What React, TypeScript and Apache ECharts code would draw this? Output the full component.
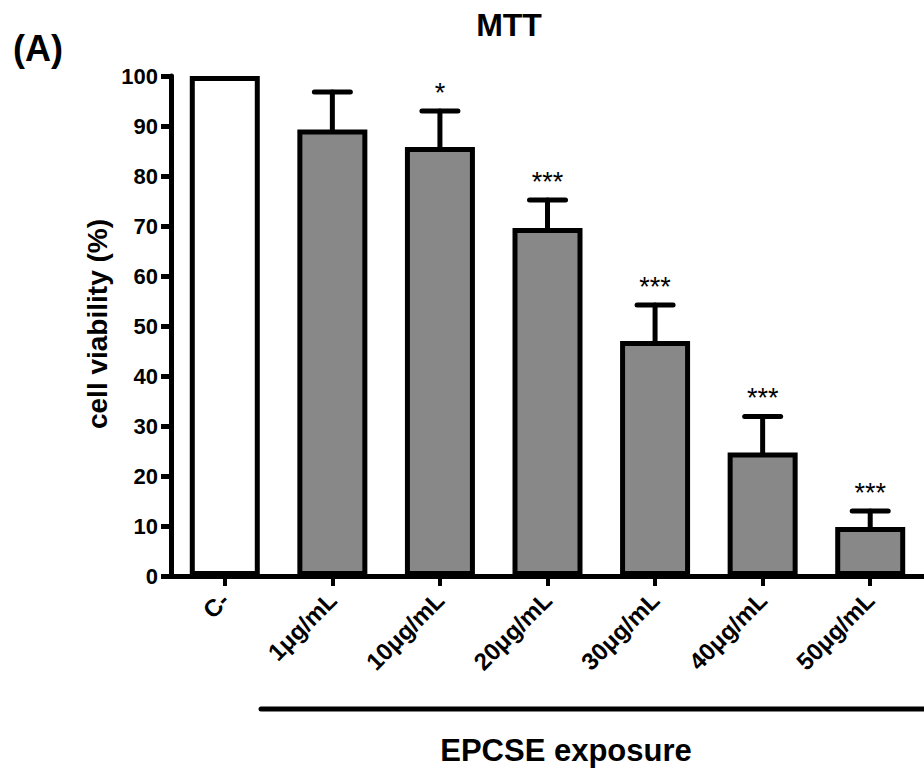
import React, { useEffect, useRef } from "react";
import * as echarts from "echarts";

const categories = ["C-", "1μg/mL", "10μg/mL", "20μg/mL", "30μg/mL", "40μg/mL", "50μg/mL"];
const means = [100, 89.3, 85.8, 69.6, 47, 24.7, 9.8];
const errors = [0, 7.5, 7.2, 5.6, 7.2, 7.2, 3.2];
const significance = ["", "", "*", "***", "***", "***", "***"];
const yTicks = { min: 0, max: 100, interval: 10 };

const FONT = "Arial, 'Liberation Sans', Helvetica, sans-serif";

export default function App() {
  const ref = useRef<HTMLDivElement>(null);
  useEffect(() => {
    if (!ref.current) return;
    const chart = echarts.init(ref.current, null, { renderer: "svg" });
    const barData = means.map((v, i) => ({
      value: v,
      itemStyle: { color: i === 0 ? "#ffffff" : "#888888" },
    }));
    const errData = means.map((v, i) => [i, v, v + errors[i]]);
    const starData = means.map((v, i) => [i, v + errors[i], significance[i]]);
    chart.setOption({
      animation: false,
      backgroundColor: "#ffffff",
      textStyle: { fontFamily: FONT },
      grid: { left: 171, right: 0, top: 76, bottom: 196, containLabel: false, outerBoundsMode: "none" },
      xAxis: {
        type: "category",
        data: categories,
        axisLine: { lineStyle: { color: "#000", width: 5 } },
        axisTick: { show: true, alignWithLabel: true, length: 10, lineStyle: { color: "#000", width: 4 } },
        axisLabel: { rotate: 45, margin: 20, fontSize: 24, fontWeight: "bold", color: "#000", fontFamily: FONT },
      },
      yAxis: {
        type: "value",
        min: yTicks.min,
        max: yTicks.max,
        interval: yTicks.interval,
        splitLine: { show: false },
        axisLine: { show: true, lineStyle: { color: "#000", width: 5 } },
        axisTick: { show: true, length: 10, lineStyle: { color: "#000", width: 5 } },
        axisLabel: { margin: 13, fontSize: 22, fontWeight: "bold", color: "#000", fontFamily: FONT },
      },
      series: [
        {
          type: "custom",
          z: 1,
          data: errData,
          renderItem: (params: any, api: any) => {
            const x = api.value(0);
            const low = api.coord([x, api.value(1)]);
            const high = api.coord([x, api.value(2)]);
            if (Math.abs(low[1] - high[1]) < 0.5) return { type: "group", children: [] };
            const style = { stroke: "#000", lineWidth: 5, lineCap: "round" };
            return {
              type: "group",
              children: [
                { type: "line", shape: { x1: low[0], y1: low[1], x2: high[0], y2: high[1] }, style },
                { type: "line", shape: { x1: high[0] - 18, y1: high[1], x2: high[0] + 18, y2: high[1] }, style },
              ],
            };
          },
        },
        {
          type: "bar",
          z: 2,
          data: barData,
          barWidth: 70,
          itemStyle: { borderColor: "#000", borderWidth: 5 },
        },
        {
          type: "custom",
          z: 3,
          data: starData,
          renderItem: (params: any, api: any) => {
            const i = api.value(0);
            const p = api.coord([i, api.value(1)]);
            const txt = significance[i];
            return {
              type: "text",
              x: p[0],
              y: p[1] - 5,
              style: {
                text: txt,
                fill: "#000",
                fontSize: 27,
                fontFamily: FONT,
                align: "center",
                verticalAlign: "bottom",
              },
            };
          },
        },
      ],
      graphic: [
        {
          type: "text",
          left: 13,
          top: 30,
          style: { text: "(A)", fontSize: 36, fontWeight: "bold", fill: "#000", fontFamily: FONT },
        },
        {
          type: "text",
          x: 509,
          y: 25,
          style: { text: "MTT", fontSize: 32, fontWeight: "bold", fill: "#000", fontFamily: FONT, align: "center", verticalAlign: "middle" },
        },
        {
          type: "text",
          x: 97,
          y: 324,
          rotation: Math.PI / 2,
          style: { text: "cell viability (%)", fontSize: 28, fontWeight: "bold", fill: "#000", fontFamily: FONT, align: "center", verticalAlign: "middle" },
        },
        {
          type: "line",
          shape: { x1: 261, y1: 709, x2: 930, y2: 709 },
          style: { stroke: "#000", lineWidth: 5, lineCap: "round" },
        },
        {
          type: "text",
          x: 566,
          y: 750,
          style: { text: "EPCSE exposure", fontSize: 31, fontWeight: "bold", fill: "#000", fontFamily: FONT, align: "center", verticalAlign: "middle" },
        },
      ],
    });
    return () => chart.dispose();
  }, []);
  return <div ref={ref} style={{ width: 924, height: 772, position: "absolute", left: 0, top: 0 }} />;
}
